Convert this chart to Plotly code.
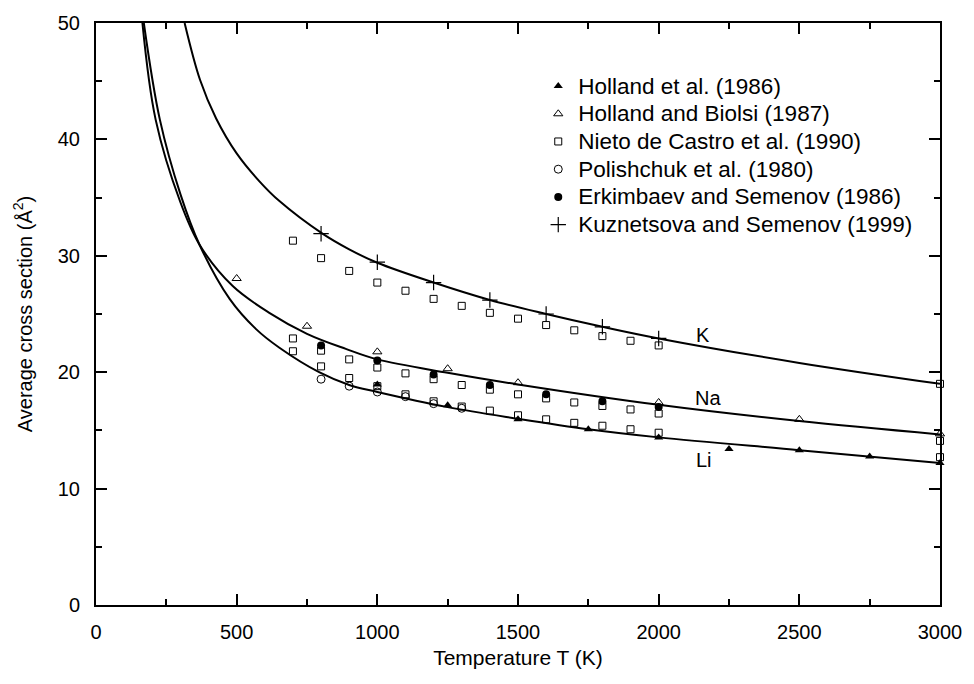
import plotly.graph_objects as go

# ---- fitted curves ----
li_T = [170, 227, 300, 368, 475, 569, 652, 793, 900, 1000, 1250, 1500, 1750, 2000, 2500, 3000]
li_S = [50, 41.7, 35.3, 30.95, 26.3, 23.7, 22.1, 20.0, 18.9, 18.3, 17.0, 16.0, 15.1, 14.4, 13.3, 12.2]
na_T = [165, 212, 300, 368, 486, 616, 750, 888, 1000, 1250, 1500, 2000, 2500, 3000]
na_S = [50, 41.7, 34.6, 30.95, 27.4, 25.1, 23.3, 22.0, 21.1, 19.95, 18.95, 17.2, 15.8, 14.65]
k_T = [315, 370, 427, 500, 581, 652, 805, 900, 1000, 1200, 1400, 1600, 1800, 2000, 2500, 3000]
k_S = [50, 45.1, 41.8, 38.8, 36.4, 34.7, 31.9, 30.55, 29.4, 27.7, 26.2, 25.0, 23.9, 22.9, 20.8, 19.0]

# ---- experimental data ----
holland86_T = [1000, 1250, 1500, 1750, 2000, 2250, 2500, 2750, 3000]
holland86_S = [18.95, 17.15, 15.95, 15.1, 14.4, 13.4, 13.3, 12.75, 12.2]
biolsi_T = [500, 750, 1000, 1250, 1500, 2000, 2500, 3000]
biolsi_S = [28.05, 23.95, 21.75, 20.3, 19.1, 17.4, 15.95, 14.7]
nieto_T = [700, 800, 900, 1000, 1100, 1200, 1300, 1400, 1500, 1600, 1700, 1800, 1900, 2000, 3000]
nieto_K = [31.3, 29.8, 28.7, 27.7, 27.0, 26.3, 25.7, 25.1, 24.6, 24.05, 23.6, 23.1, 22.7, 22.3, 19.0]
nieto_Na = [22.9, 21.85, 21.1, 20.4, 19.9, 19.4, 18.9, 18.5, 18.1, 17.75, 17.4, 17.1, 16.8, 16.45, 14.1]
nieto_Li = [21.8, 20.5, 19.5, 18.8, 18.1, 17.5, 17.05, 16.7, 16.3, 15.95, 15.65, 15.4, 15.1, 14.8, 12.7]
polish_T = [800, 900, 1000, 1100, 1200, 1300]
polish_S = [19.4, 18.8, 18.3, 17.9, 17.3, 16.9]
erkim_T = [800, 1000, 1200, 1400, 1600, 1800, 2000]
erkim_S = [22.3, 21.0, 19.8, 18.9, 18.1, 17.5, 17.0]
kuz_T = [800, 1000, 1200, 1400, 1600, 1800, 2000]
kuz_S = [31.9, 29.45, 27.7, 26.2, 25.0, 23.9, 22.9]

curve_labels = ["K", "Na", "Li"]
curve_label_T = [2157, 2175, 2162]
curve_label_S = [23.2, 17.8, 12.5]

FONT = "Liberation Sans, Arial, sans-serif"
fig = go.Figure()

for T, S in [(li_T, li_S), (na_T, na_S), (k_T, k_S)]:
    fig.add_trace(go.Scatter(x=T, y=S, mode="lines", line=dict(color="black", width=2, shape="spline", smoothing=1.0),
                             showlegend=False, hoverinfo="skip"))

def mk(name, x, y, symbol, size, lw=1):
    fig.add_trace(go.Scatter(x=x, y=y, mode="markers",
                             name='<span style="font-size:22.5px">' + name + '</span>', cliponaxis=False,
                             marker=dict(symbol=symbol, size=size, color="black",
                                         line=dict(color="black", width=lw))))

mk("Holland et al. (1986)", holland86_T, holland86_S, "triangle-up", 8, 0)
mk("Holland and Biolsi (1987)", biolsi_T, biolsi_S, "triangle-up-open", 8)
mk("Nieto de Castro et al. (1990)", nieto_T * 3, nieto_K + nieto_Na + nieto_Li, "square-open", 7)
mk("Polishchuk et al. (1980)", polish_T, polish_S, "circle-open", 8)
mk("Erkimbaev and Semenov (1986)", erkim_T, erkim_S, "circle", 8, 0)
mk("Kuznetsova and Semenov (1999)", kuz_T, kuz_S, "cross-thin-open", 11, 1.2)

for t, x, y in zip(curve_labels, curve_label_T, curve_label_S):
    fig.add_annotation(x=x, y=y, text=t, showarrow=False, font=dict(family=FONT, size=20, color="black"))

axis_common = dict(showline=True, linecolor="black", linewidth=2, mirror="ticks", ticks="inside",
                   tickcolor="black", tickwidth=1.5, ticklen=11, showgrid=False, zeroline=False,
                   tickfont=dict(family=FONT, size=20, color="black"))
fig.update_xaxes(range=[0, 3000], dtick=500, tick0=0,
                 minor=dict(dtick=250, ticks="inside", ticklen=6, tickcolor="black", tickwidth=1.5),
                 title=dict(text="Temperature T (K)", font=dict(family=FONT, size=21, color="black"), standoff=8),
                 ticklabelstandoff=8, **axis_common)
fig.update_yaxes(range=[0, 50], dtick=10, tick0=0,
                 minor=dict(dtick=5, ticks="inside", ticklen=6, tickcolor="black", tickwidth=1.5),
                 title=dict(text="Average cross section (Å<sup>2</sup>)", font=dict(family=FONT, size=20, color="black"), standoff=20),
                 ticklabelstandoff=10, **axis_common)

fig.update_layout(width=974, height=684, margin=dict(l=96, r=31, t=18, b=79),
                  paper_bgcolor="white", plot_bgcolor="white",
                  font=dict(family=FONT, size=20, color="black"),
                  legend=dict(x=0.524, y=0.924, xanchor="left", yanchor="top", bgcolor="rgba(0,0,0,0)",
                              font=dict(family=FONT, size=19, color="black")))
fig.write_html("out.html")
